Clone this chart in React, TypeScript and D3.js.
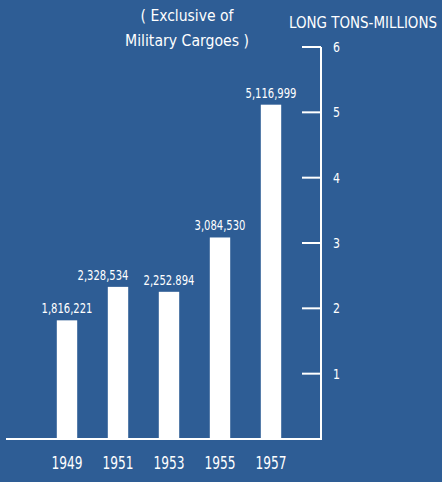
import React from "react";
import * as d3 from "d3";

const years = ["1949", "1951", "1953", "1955", "1957"];
const values = [1816221, 2328534, 2252894, 3084530, 5116999];
const valueLabels = ["1,816,221", "2,328,534", "2,252.894", "3,084,530", "5,116,999"];
const yTicks = [1, 2, 3, 4, 5, 6];
const titleLines = ["( Exclusive of", "Military Cargoes )"];
const unitLabel = "LONG TONS-MILLIONS";

const W = 442;
const H = 482;
const BG = "#2e5d95";
const FONT = "'DejaVu Sans Condensed', 'DejaVu Sans', sans-serif";
const TITLE_WIDTHS = [93, 124];
const LABEL_SHIFT: Record<string, number> = { "1951": -15 };

export default function App() {
  const y = d3.scaleLinear().domain([0, 6]).range([439, 47]);
  const x = d3.scaleBand<string>().domain(years).range([41.5, 296.5]).paddingInner(0.6).paddingOuter(0.3);
  const axisX = 321;
  return (
    <svg width={W} height={H} style={{ position: "absolute", left: 0, top: 0, background: BG }}>
      <rect x={0} y={0} width={W} height={H} fill={BG} />
      {titleLines.map((t, i) => (
        <text
          key={t}
          x={187 - TITLE_WIDTHS[i] / 2}
          y={21 + i * 25}
          fill="#fff"
          fontFamily={FONT}
          fontSize={16}
          textLength={TITLE_WIDTHS[i]}
          lengthAdjust="spacingAndGlyphs"
        >
          {t}
        </text>
      ))}
      <text x={289} y={28} fill="#fff" fontFamily={FONT} fontSize={15} textLength={148} lengthAdjust="spacingAndGlyphs">
        {unitLabel}
      </text>
      <line x1={6} x2={axisX + 1} y1={y(0)} y2={y(0)} stroke="#fff" strokeWidth={2} />
      <line x1={axisX} x2={axisX} y1={y(6)} y2={y(0)} stroke="#fff" strokeWidth={2} />
      {yTicks.map((t) => (
        <g key={t}>
          <line x1={302} x2={axisX} y1={y(t)} y2={y(t)} stroke="#fff" strokeWidth={2} />
          <text x={333} y={y(t) + 5} fill="#fff" fontFamily={FONT} fontSize={14} textLength={7} lengthAdjust="spacingAndGlyphs">
            {t}
          </text>
        </g>
      ))}
      {years.map((yr, i) => {
        const bx = x(yr)!;
        const bw = x.bandwidth();
        const v = values[i] / 1e6;
        const cx = bx + bw / 2 + (LABEL_SHIFT[yr] ?? 0);
        return (
          <g key={yr}>
            <rect x={bx} y={y(v)} width={bw} height={y(0) - y(v)} fill="#fff" />
            <text
              x={cx - 25.5}
              y={y(v) - 7}
              fill="#fff"
              fontFamily={FONT}
              fontSize={13.5}
              textLength={51}
              lengthAdjust="spacingAndGlyphs"
            >
              {valueLabels[i]}
            </text>
            <text
              x={bx + bw / 2 - 15.5}
              y={469}
              fill="#fff"
              fontFamily={FONT}
              fontSize={17.5}
              textLength={31}
              lengthAdjust="spacingAndGlyphs"
            >
              {yr}
            </text>
          </g>
        );
      })}
    </svg>
  );
}
